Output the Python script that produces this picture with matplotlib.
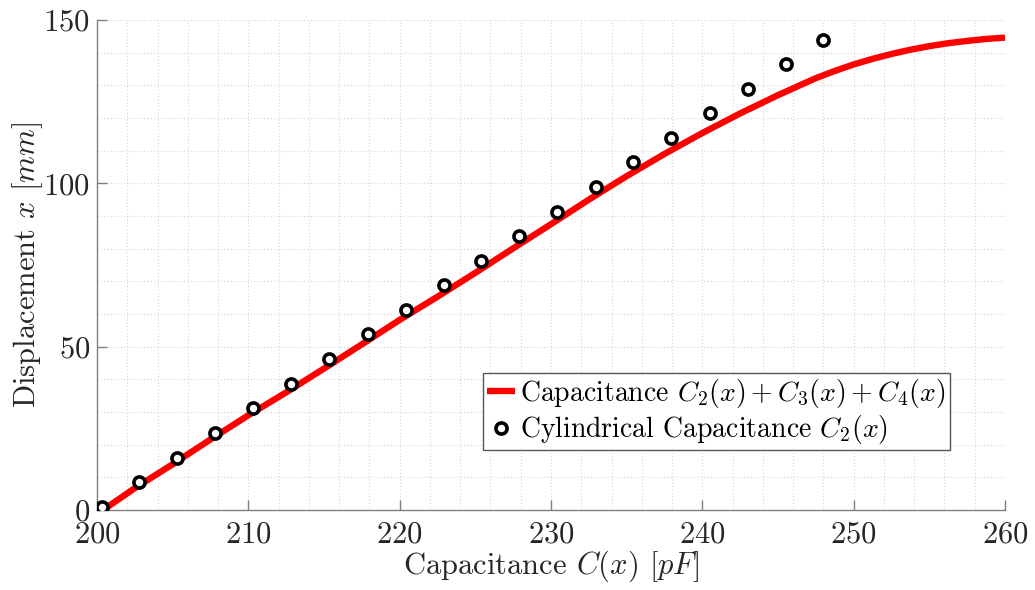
import matplotlib
matplotlib.use("Agg")
import matplotlib.pyplot as plt
from matplotlib.ticker import MultipleLocator

plt.rcParams['font.family'] = 'serif'
plt.rcParams['font.serif'] = ['cmr10']
plt.rcParams['mathtext.fontset'] = 'cm'
plt.rcParams['axes.formatter.use_mathtext'] = True

# total capacitance C2 + C3 + C4 (model curve)
cap_total = [200.4, 202.5, 205.0, 207.5, 210.0, 212.5, 215.0, 217.5, 220.0, 222.5,
             225.0, 227.5, 230.0, 232.5, 235.0, 237.5, 240.0, 242.5, 245.0, 247.5,
             248.75, 250.0, 251.25, 252.5, 253.75, 255.0, 256.25, 257.5, 258.75, 260.0]
disp_total = [0.0, 6.7, 14.0, 21.6, 29.0, 36.0, 43.3, 50.7, 58.2, 65.3,
              72.6, 80.1, 87.5, 95.0, 102.2, 109.0, 115.4, 121.4, 127.0, 132.2,
              134.4, 136.4, 138.1, 139.6, 140.9, 142.0, 142.9, 143.6, 144.2, 144.6]

# cylindrical part C2 only
cap_cyl = [200.3, 202.8, 205.3, 207.8, 210.3, 212.8, 215.3, 217.9, 220.4, 222.9,
           225.4, 227.9, 230.4, 233.0, 235.4, 237.9, 240.5, 243.0, 245.5, 248.0]
disp_cyl = [1.0, 8.6, 15.9, 23.6, 31.1, 38.6, 46.2, 53.8, 61.2, 68.9,
            76.2, 83.8, 91.3, 99.0, 106.4, 113.9, 121.5, 128.9, 136.4, 144.0]

fig = plt.figure(figsize=(10.35, 5.9), dpi=100)
ax = fig.add_axes([0.0937, 0.1356, 0.8773, 0.8305])

ax.plot(cap_total, disp_total, color='#ff0000', lw=4.6, solid_capstyle='butt',
        solid_joinstyle='round',
        label=r'Capacitance $C_2(x)+C_3(x)+C_4(x)$', zorder=3)
ax.plot(cap_cyl, disp_cyl, ls='none', marker='o', ms=8, mfc='white', mec='black',
        mew=2.6, label=r'Cylindrical Capacitance $C_2(x)$', zorder=4)

ax.set_xlim(200, 260)
ax.set_ylim(0, 150)
ax.xaxis.set_major_locator(MultipleLocator(10))
ax.xaxis.set_minor_locator(MultipleLocator(2))
ax.yaxis.set_major_locator(MultipleLocator(50))
ax.yaxis.set_minor_locator(MultipleLocator(10))

ax.grid(which='both', ls=(0, (1, 2)), color='#d4d4d4', lw=0.8)
ax.set_axisbelow(True)

for side in ['top', 'right']:
    ax.spines[side].set_visible(False)
for side in ['left', 'bottom']:
    ax.spines[side].set_color('#808080')
    ax.spines[side].set_linewidth(1.0)

ax.tick_params(which='major', direction='in', length=7, width=1, color='#808080',
               labelsize=22, labelcolor='#262626')
ax.tick_params(axis='x', pad=8)
ax.tick_params(axis='y', pad=5)
ax.tick_params(which='minor', length=0)

ax.set_xlabel(r'Capacitance $C(x)$ $[pF]$', fontsize=22, color='#262626', labelpad=0)
ax.set_ylabel(r'Displacement $x$ $[mm]$', fontsize=22, color='#262626', labelpad=-1)

leg = ax.legend(loc='upper left', bbox_to_anchor=(0.425, 0.28), borderaxespad=0,
                fontsize=20, fancybox=False, framealpha=1, edgecolor='#555555',
                handlelength=1.0, handletextpad=0.2, borderpad=0.15,
                labelspacing=0.12)
leg.get_frame().set_linewidth(1.0)

fig.savefig('out.png', dpi=100)
